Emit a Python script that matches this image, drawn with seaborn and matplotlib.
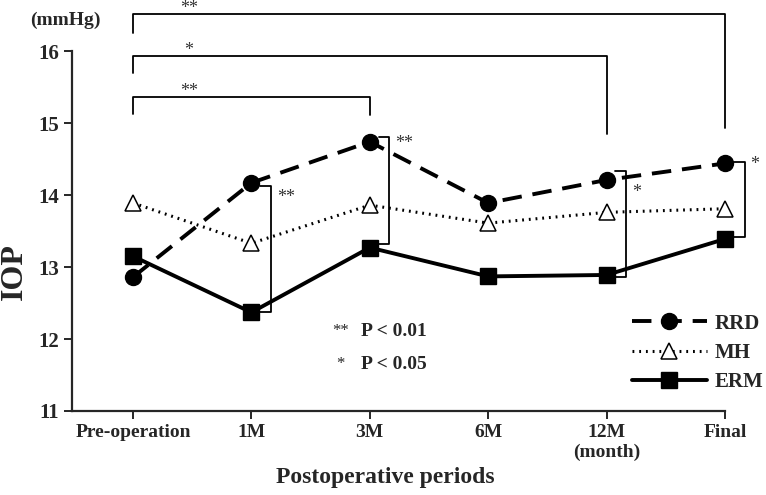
import matplotlib
matplotlib.use("Agg")
import matplotlib.pyplot as plt
import seaborn as sns

# Datos del gráfico
periods = ["Pre-operation", "1M", "3M", "6M", "12M\n(month)", "Final"]
rrd = [12.86, 14.17, 14.74, 13.89, 14.21, 14.44]
mh = [13.89, 13.33, 13.86, 13.61, 13.76, 13.81]
erm = [13.15, 12.37, 13.27, 12.87, 12.89, 13.39]

# Comparaciones con el preoperatorio (corchetes superiores)
top_right = [5, 4, 2]
top_level = [16.51, 15.93, 15.36]
top_left_end = [16.25, 15.69, 15.125]
top_right_end = [14.93, 14.85, 15.11]
top_marks = ["**", "*", "**"]

# Comparaciones entre grupos en cada periodo (corchetes laterales)
side_idx = [1, 2, 4, 5]
side_top = [14.125, 14.81, 14.33, 14.46]
side_bottom = [12.375, 13.32, 12.86, 13.42]
side_marks = ["**", "**", "*", "*"]
side_mark_y = [13.96, 14.72, 14.04, 14.42]

sns.set_style("ticks")
plt.rcParams["font.family"] = ["Liberation Serif", "DejaVu Serif"]
plt.rcParams["font.weight"] = "bold"

fig = plt.figure(figsize=(7.66, 4.95), dpi=100)
ax = fig.add_axes([72 / 766, 84 / 495, (725 - 72) / 766, 411 / 495])

sns.lineplot(x=periods, y=rrd, ax=ax, color="black", lw=2.8, linestyle=(0, (5, 2.8)),
             marker="o", markersize=11.5, markeredgecolor="black", markeredgewidth=1,
             label="RRD", clip_on=False)
sns.lineplot(x=periods, y=mh, ax=ax, color="black", lw=2.2, linestyle=(0, (0.6, 1.6)),
             marker="^", markersize=11, markerfacecolor="white", markeredgecolor="black",
             markeredgewidth=1.1, label="MH", clip_on=False)
sns.lineplot(x=periods, y=erm, ax=ax, color="black", lw=2.8, linestyle="-",
             marker="s", markersize=11, markeredgecolor="black", markeredgewidth=1,
             label="ERM", clip_on=False)

ax.set_xlim(-0.515, 5.0)
ax.set_ylim(11, 16.71)
ax.set_yticks([11, 12, 13, 14, 15, 16])
sns.despine(ax=ax)
ax.spines["left"].set_bounds(11, 16)
ax.spines["left"].set_linewidth(1.6)
ax.spines["bottom"].set_linewidth(1.6)
ax.tick_params(axis="both", width=1.4, length=6)
ax.tick_params(axis="y", labelsize=15)
ax.tick_params(axis="x", labelsize=14)
for lab in ax.get_xticklabels() + ax.get_yticklabels():
    lab.set_fontweight("bold")

ax.set_xlabel("Postoperative periods", fontsize=17, fontweight="bold", va="center")
ax.xaxis.set_label_coords((385 - 72) / 653, -(478 - 411) / 411)
ax.set_ylabel("IOP", fontsize=23, fontweight="bold", va="center")
ax.yaxis.set_label_coords(-(72 - 14) / 653, (411 - 272) / 411)
fig.text(30 / 766, 1 - 20 / 495, "(mmHg)", fontsize=14, fontweight="bold", va="center", ha="left")

# corchetes superiores
for r, lvl, le, re_, m in zip(top_right, top_level, top_left_end, top_right_end, top_marks):
    ax.plot([0, 0, r, r], [le, lvl, lvl, re_], color="black", lw=1.3, clip_on=False)
    ax.text(0.47, lvl + 0.02, m, fontsize=13, fontweight="normal", ha="center", va="baseline",
            color="#333333")

# corchetes laterales
for i, t, b, m, my in zip(side_idx, side_top, side_bottom, side_marks, side_mark_y):
    x0 = i + 0.075
    x1 = i + 0.165
    ax.plot([x0, x1, x1, x0], [t, t, b, b], color="black", lw=1.3, clip_on=False)
    ax.text(x1 + 0.05, my, m, fontsize=13, fontweight="normal", ha="left", va="center",
            color="#333333", clip_on=False)

# leyenda de significancia
ax.text(1.75, 12.11, "**", fontsize=12, fontweight="normal", ha="center", va="center")
ax.text(1.93, 12.11, "P < 0.01", fontsize=14, fontweight="bold", ha="left", va="center")
ax.text(1.75, 11.65, "*", fontsize=12, fontweight="normal", ha="center", va="center")
ax.text(1.93, 11.65, "P < 0.05", fontsize=14, fontweight="bold", ha="left", va="center")

ax.legend(loc="lower right", bbox_to_anchor=(1.016, 0.178), bbox_transform=fig.transFigure,
          frameon=False, handlelength=3.6, labelspacing=0.45, handletextpad=0.4,
          borderpad=0.2, prop={"weight": "bold", "size": 15})

fig.savefig("out.png", dpi=100)
